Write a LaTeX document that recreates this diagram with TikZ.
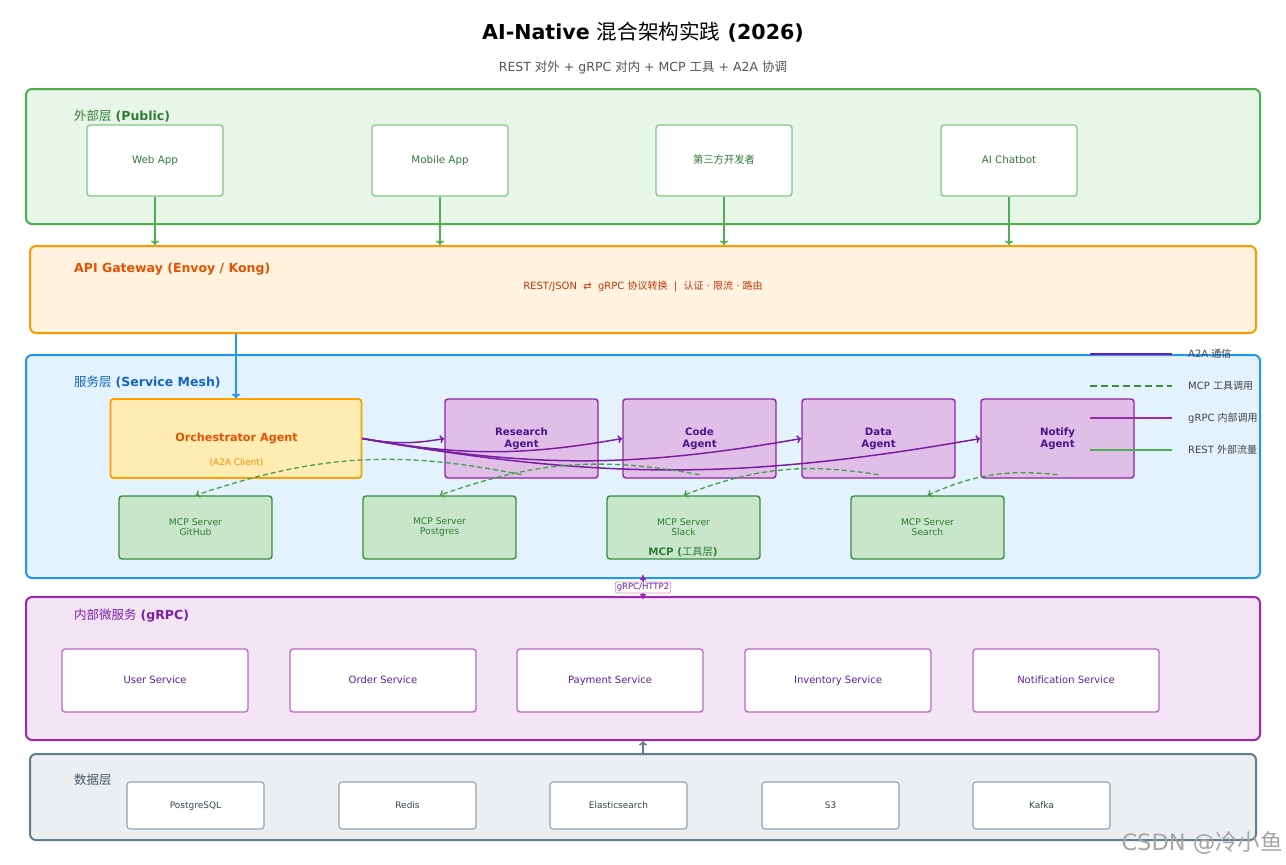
\documentclass[tikz,border=0pt]{standalone}
\usepackage{fontspec}
\setmainfont{DejaVu Sans}
\newfontfamily\cjk{Noto Sans CJK SC}
\usetikzlibrary{arrows.meta,calc}
\definecolor{pubfill}{HTML}{E8F5E9}
\definecolor{publine}{HTML}{4CAF50}
\definecolor{pubtext}{HTML}{2E7D32}
\definecolor{pubbox}{HTML}{81C784}
\definecolor{gwfill}{HTML}{FFF3E0}
\definecolor{gwline}{HTML}{FF9800}
\definecolor{gwtext}{HTML}{E65100}
\definecolor{gwsub}{HTML}{BF360C}
\definecolor{svcfill}{HTML}{E3F2FD}
\definecolor{svcline}{HTML}{2196F3}
\definecolor{svctext}{HTML}{1565C0}
\definecolor{orchfill}{HTML}{FFECB3}
\definecolor{orchline}{HTML}{FFA000}
\definecolor{orchsub}{HTML}{FB8C00}
\definecolor{agfill}{HTML}{E1BEE7}
\definecolor{agline}{HTML}{8E24AA}
\definecolor{agtext}{HTML}{4A148C}
\definecolor{mcpfill}{HTML}{C8E6C9}
\definecolor{mcpline}{HTML}{388E3C}
\definecolor{mcptext}{HTML}{2E7D32}
\definecolor{mcparrow}{HTML}{43A047}
\definecolor{a2acol}{HTML}{7B1FA2}
\definecolor{grpccol}{HTML}{9C27B0}
\definecolor{intfill}{HTML}{F3E5F5}
\definecolor{intline}{HTML}{9C27B0}
\definecolor{inttext}{HTML}{7B1FA2}
\definecolor{intbox}{HTML}{BA68C8}
\definecolor{intboxtext}{HTML}{6A1B9A}
\definecolor{datafill}{HTML}{ECEFF1}
\definecolor{dataline}{HTML}{607D8B}
\definecolor{datatext}{HTML}{455A64}
\definecolor{databox}{HTML}{90A4AE}
\definecolor{databoxtext}{HTML}{37474F}
\definecolor{legtext}{HTML}{424242}
\definecolor{subtitle}{HTML}{555555}
\begin{document}
\begin{tikzpicture}[x=1pt,y=-1pt,
  layer/.style={draw, line width=2pt, rounded corners=6pt, inner sep=0pt},
  lbl/.style={anchor=west, inner sep=0pt, font=\fontsize{12.5}{15}\selectfont},
  pubnode/.style={draw=pubbox, fill=white, line width=1.3pt, rounded corners=3pt,
    minimum width=136pt, minimum height=71pt, inner sep=0pt, text=pubtext,
    font=\fontsize{10.3}{12}\selectfont, text height=7.5pt, text depth=0.8pt},
  agnode/.style={draw=agline, fill=agfill, line width=1.4pt, rounded corners=3pt,
    minimum width=153pt, minimum height=79pt, inner sep=0pt, text=agtext, align=center,
    font=\fontsize{10.2}{12}\selectfont\bfseries},
  mcpnode/.style={draw=mcpline, fill=mcpfill, line width=1.4pt, rounded corners=3pt,
    minimum width=153pt, minimum height=63pt, inner sep=0pt, text=mcptext, align=center,
    font=\fontsize{9.2}{10}\selectfont},
  intnode/.style={draw=intbox, fill=white, line width=1.3pt, rounded corners=3pt,
    minimum width=186pt, minimum height=63pt, inner sep=0pt, text=intboxtext,
    font=\fontsize{10}{12}\selectfont, text height=7.3pt, text depth=0.8pt},
  datanode/.style={draw=databox, fill=white, line width=1.1pt, rounded corners=3pt,
    minimum width=137pt, minimum height=47pt, inner sep=0pt, text=databoxtext,
    font=\fontsize{9}{11}\selectfont, text height=6.6pt, text depth=0.6pt},
  myarr/.style={-{To[length=4.5pt,width=8pt]}},
  rest/.style={myarr, draw=publine, line width=1.6pt},
  a2a/.style={myarr, draw=a2acol, line width=1.5pt},
  mcpa/.style={myarr, draw=mcparrow, line width=1.3pt, dash pattern=on 5pt off 3pt},
  legtxt/.style={anchor=west, inner sep=0pt, text=legtext, font=\fontsize{10}{12}\selectfont}
]
\useasboundingbox (0,0) rectangle (1286,865);
\fill[white] (0,0) rectangle (1286,865);

% title
\node[inner sep=0pt] (title) at (643,32) {\fontsize{20.6}{24}\selectfont\bfseries AI-Native {\cjk\mdseries 混合架构实践} (2026)};
\node[inner sep=0pt, text=subtitle, font=\fontsize{12.5}{15}\selectfont] (subt) at (643,68)
  {REST {\cjk 对外} + gRPC {\cjk 对内} + MCP {\cjk 工具} + A2A {\cjk 协调}};

% layers
\node[layer, draw=publine, fill=pubfill, minimum width=1234pt, minimum height=135pt] (pub) at (643,156.5) {};
\node[layer, draw=gwline, fill=gwfill, minimum width=1226pt, minimum height=87pt] (gw) at (643,289.5) {};
\node[layer, draw=svcline, fill=svcfill, minimum width=1234pt, minimum height=223pt] (svc) at (643,466.5) {};
\node[layer, draw=intline, fill=intfill, minimum width=1234pt, minimum height=143pt] (int) at (643,668.5) {};
\node[layer, draw=dataline, fill=datafill, minimum width=1226pt, minimum height=86pt] (data) at (643,797) {};

% layer labels
\node[lbl, text=pubtext] (publbl) at (74,116) {{\cjk 外部层} \textbf{(Public)}};
\node[lbl, text=gwtext] (gwlbl) at (74,269) {\textbf{API Gateway (Envoy / Kong)}};
\node[inner sep=0pt, text=gwsub, font=\fontsize{10}{12}\selectfont] (gwsubt) at (643,286)
  {REST/JSON\ \ ⇄\ \ gRPC {\cjk 协议转换}\ \ |\ \ {\cjk 认证} · {\cjk 限流} · {\cjk 路由}};
\node[lbl, text=svctext] (svclbl) at (74,382) {{\cjk 服务层} \textbf{(Service Mesh)}};
\node[lbl, text=inttext] (intlbl) at (74,616) {{\cjk 内部微服务} \textbf{(gRPC)}};
\node[lbl, text=datatext] (datalbl) at (74,780) {{\cjk 数据层}};

% public nodes
\node[pubnode] (web) at (155,160.5) {Web App};
\node[pubnode] (mob) at (440,160.5) {Mobile App};
\node[pubnode] (third) at (724,160.5) {{\cjk 第三方开发者}};
\node[pubnode] (bot) at (1009,160.5) {AI Chatbot};
\foreach \n in {web,mob,third,bot}{
  \draw[rest] (\n.south) -- (\n.south |- gw.north);
}

% service layer
\node[draw=orchline, fill=orchfill, line width=1.8pt, rounded corners=3pt,
  minimum width=251pt, minimum height=79pt, inner sep=0pt] (orch) at (236,438.5) {};
\node[inner sep=0pt, text=gwtext, font=\fontsize{11.2}{13}\selectfont\bfseries] (orchlbl) at (236.5,438) {Orchestrator Agent};
\node[inner sep=0pt, text=orchsub, font=\fontsize{9}{11}\selectfont] (orchsub) at (236.5,463) {(A2A Client)};
\draw[myarr, draw=svcline, line width=1.8pt] (orch.north |- gw.south) -- (orch.north);

\node[agnode] (res) at (521.5,438.5) {Research\\Agent};
\node[agnode] (code) at (699.5,438.5) {Code\\Agent};
\node[agnode] (dat) at (878.5,438.5) {Data\\Agent};
\node[agnode] (noti) at (1057.5,438.5) {Notify\\Agent};

\node[mcpnode] (gh) at (195.5,527.5) {MCP Server\\GitHub};
\node[mcpnode] (pg) at (439.5,527.5) {MCP Server\\Postgres};
\node[mcpnode] (sl) at (683.5,527.5) {MCP Server\\Slack};
\node[mcpnode] (se) at (927.5,527.5) {MCP Server\\Search};
\node[inner sep=0pt, text=mcptext, font=\fontsize{10.3}{12}\selectfont] (mcplbl) at (683,552) {\textbf{MCP (}{\cjk 工具层}\textbf{)}};

% A2A arrows
\draw[a2a] (orch.east) to[bend right=10] (res.west);
\draw[a2a] (orch.east) to[bend right=10] (code.west);
\draw[a2a] (orch.east) to[bend right=10] (dat.west);
\draw[a2a] (orch.east) to[bend right=10] (noti.west);

% MCP arrows
\draw[mcpa] ([yshift=4pt]res.south) to[bend right=15] (gh.north);
\draw[mcpa] ([yshift=4pt]code.south) to[bend right=15] (pg.north);
\draw[mcpa] ([yshift=4pt]dat.south) to[bend right=15] (sl.north);
\draw[mcpa] ([yshift=4pt]noti.south) to[bend right=15] (se.north);

% legend
\draw[draw=a2acol, line width=2pt] (1090,354) -- (1172,354);
\node[legtxt] (legA) at (1188,354) {A2A {\cjk 通信}};
\draw[draw=mcpline, line width=2pt, dash pattern=on 7pt off 4pt] (1090,386) -- (1172,386);
\node[legtxt] (legM) at (1188,386) {MCP {\cjk 工具调用}};
\draw[draw=grpccol, line width=2pt] (1090,418) -- (1172,418);
\node[legtxt] (legG) at (1188,418) {gRPC {\cjk 内部调用}};
\draw[draw=publine, line width=2pt] (1090,450) -- (1172,450);
\node[legtxt] (legR) at (1188,450) {REST {\cjk 外部流量}};

% gRPC bridge
\draw[{Latex[length=6pt,width=7pt]}-{Latex[length=6pt,width=7pt]}, draw=grpccol, line width=1.5pt]
  ([yshift=5pt]svc.south) -- ([yshift=-4pt]int.north);
\node[draw=intbox!70, fill=white, rounded corners=2pt, line width=0.8pt, inner sep=1.5pt,
  text=intboxtext, font=\fontsize{8.5}{10}\selectfont] (grpclbl) at (643,587.5) {gRPC/HTTP2};

% internal services
\node[intnode] (usr) at (155,680.5) {User Service};
\node[intnode] (ord) at (383,680.5) {Order Service};
\node[intnode] (pay) at (610,680.5) {Payment Service};
\node[intnode] (inv) at (838,680.5) {Inventory Service};
\node[intnode] (ntf) at (1066,680.5) {Notification Service};

% data
\node[datanode] (pgs) at (195.5,805.5) {PostgreSQL};
\node[datanode] (red) at (407.5,805.5) {Redis};
\node[datanode] (es) at (618.5,805.5) {Elasticsearch};
\node[datanode] (s3) at (830.5,805.5) {S3};
\node[datanode] (kaf) at (1041.5,805.5) {Kafka};
\draw[myarr, draw=dataline, line width=1.6pt] (data.north) -- (int.south);

% watermark
\node[anchor=east, inner sep=0pt, text=black!35, font=\fontsize{22.5}{26}\selectfont] (wm) at (1283,843) {CSDN @{\cjk 冷小鱼}};
\end{tikzpicture}
\end{document}
